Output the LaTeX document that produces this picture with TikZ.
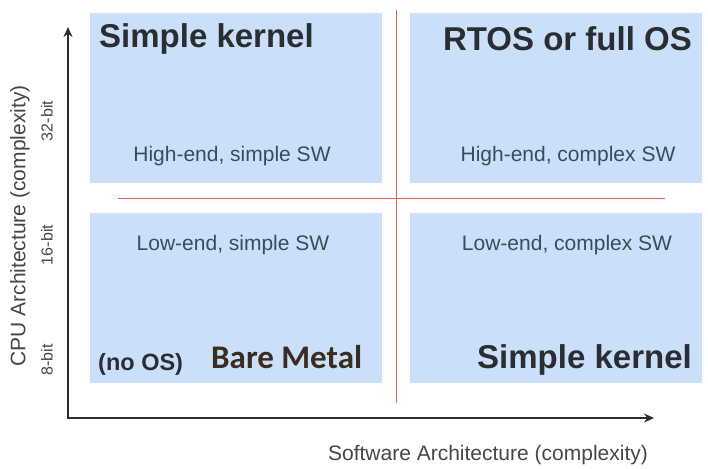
\documentclass[tikz,border=0pt]{standalone}
\usepackage{fontspec}
\setmainfont{Liberation Sans}
\newfontfamily\carlito{Carlito}
\usetikzlibrary{arrows.meta}
\definecolor{boxblue}{RGB}{202,224,250}
\definecolor{subtxt}{RGB}{60,74,92}
\definecolor{titletxt}{RGB}{42,46,51}
\definecolor{redline}{RGB}{222,100,70}
\definecolor{axisgray}{RGB}{45,45,45}
\definecolor{baremetal}{RGB}{58,44,30}
\definecolor{labelgray}{RGB}{70,70,70}
\tikzset{
  quad/.style={fill=boxblue, draw=none, minimum width=292pt, minimum height=170pt, inner sep=0pt},
  bigtitle/.style={font=\fontsize{33}{37}\selectfont\bfseries, text=titletxt, inner sep=0pt},
  subtitle/.style={font=\fontsize{21}{25}\selectfont, text=subtxt, inner sep=0pt},
  axislabel/.style={font=\fontsize{21}{25}\selectfont, text=labelgray, inner sep=0pt},
  ticklabel/.style={font=\fontsize{16}{19}\selectfont, text=labelgray, inner sep=0pt, rotate=90},
  divider/.style={draw=redline, line width=1pt},
  axisline/.style={draw=axisgray, line width=2.6pt, -{Stealth[length=10pt,width=9pt]}}
}
\begin{document}
\begin{tikzpicture}[x=1pt,y=-1pt]
\useasboundingbox (0,0) rectangle (708,468);
% quadrants
\node[quad] (tl) at (236,98) {};
\node[quad] (tr) at (556,98) {};
\node[quad] (bl) at (236,298) {};
\node[quad] (br) at (556,298) {};
% dividers
\coordinate (vtop) at (396,10);
\coordinate (vbot) at (396,403);
\coordinate (hl) at (118,198);
\coordinate (hr) at (665,198);
\draw[divider] (vtop) -- (vbot);
\draw[divider] (hl) -- (hr);
% axes
\coordinate (o) at (68,418);
\coordinate (ytip) at (68,27);
\coordinate (xtip) at (654,418);
\draw[axisline, line cap=butt] (o) -- (ytip);
\draw[axisline] ([xshift=-1.3pt]o) -- (xtip);
% titles
\node[bigtitle, anchor=west] (t1) at (99,39) {Simple kernel};
\node[bigtitle, anchor=east] (t2) at (692,39) {RTOS or full OS};
\node[bigtitle, anchor=east] (t4) at (692,360) {Simple kernel};
\node[font=\fontsize{23.5}{27}\selectfont\bfseries, text=titletxt, inner sep=0pt, anchor=west] (noos) at (98,364) {(no OS)};
\node[font=\carlito\fontsize{33}{37}\selectfont\bfseries, text=baremetal, inner sep=0pt, anchor=west] (bm) at (211,357) {Bare Metal};
% subtitles
\node[subtitle] (s1) at (232,156) {High-end, simple SW};
\node[subtitle] (s2) at (568,156) {High-end, complex SW};
\node[subtitle] (s3) at (233,245) {Low-end, simple SW};
\node[subtitle] (s4) at (567,245) {Low-end, complex SW};
% axis labels
\node[axislabel, rotate=90] (ylab) at (20,226) {CPU Architecture (complexity)};
\node[axislabel] (xlab) at (488,455) {Software Architecture (complexity)};
\node[ticklabel] (b32) at (47,121) {32-bit};
\node[ticklabel] (b16) at (47,245) {16-bit};
\node[ticklabel] (b8) at (47,360) {8-bit};
\end{tikzpicture}
\end{document}
